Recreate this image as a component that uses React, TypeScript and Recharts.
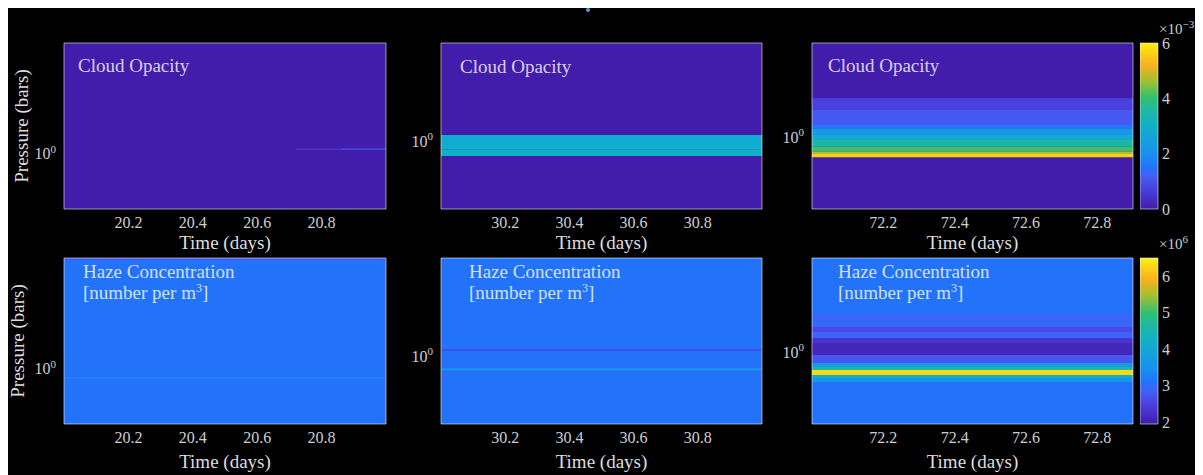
import React from "react";
import { ComposedChart, XAxis, YAxis, ReferenceArea, Label } from "recharts";

// time axes (days)
const timeRange20 = [20, 21];
const timeRange30 = [30, 31];
const timeRange72 = [72, 72.9];
const timeTicks20 = [20.2, 20.4, 20.6, 20.8];
const timeTicks30 = [30.2, 30.4, 30.6, 30.8];
const timeTicks72 = [72.2, 72.4, 72.6, 72.8];

// pressure axes, log10(bars), top -> bottom
const pressRange20 = [-2, 1];
const pressRange30 = [-1.8, 1.25];
const pressRange72 = [-1.7, 1.3];
const pressTicks = [0];

// cloud opacity (x 1e-3), bands of log10 pressure
const cloudScale = [0, 6];
const cloudTicks = [0, 2, 4, 6];
const cloudBase = 0;
const cloud20 = [
  { lo: -0.095, hi: -0.072, v: 0.5, t0: 20.72, t1: 20.86 },
  { lo: -0.095, hi: -0.072, v: 1.1, t0: 20.86, t1: 21 },
];
const cloud30 = [
  { lo: -0.11, hi: 0.02, v: 2.8 },
  { lo: 0.02, hi: 0.15, v: 2.9 },
  { lo: 0.15, hi: 0.276, v: 3.0 },
];
const cloud72 = [
  { lo: -0.7, hi: -0.49, v: 0.7 },
  { lo: -0.49, hi: -0.218, v: 1.1 },
  { lo: -0.218, hi: -0.158, v: 1.6 },
  { lo: -0.158, hi: -0.037, v: 2.2 },
  { lo: -0.037, hi: 0.053, v: 2.8 },
  { lo: 0.053, hi: 0.174, v: 3.5 },
  { lo: 0.174, hi: 0.264, v: 4.1 },
  { lo: 0.264, hi: 0.306, v: 4.8 },
  { lo: 0.306, hi: 0.366, v: 5.6 },
];

// haze concentration (x 1e6 per m^3)
const hazeScale = [1.95, 6.5];
const hazeTicks = [2, 3, 4, 5, 6];
const hazeBase = 3.1;
const haze20 = [
  { lo: -2, hi: -1.975, v: 2.6 },
  { lo: 0.155, hi: 0.18, v: 3.3 },
];
const haze30 = [
  { lo: -0.125, hi: -0.095, v: 2.55 },
  { lo: 0.225, hi: 0.265, v: 3.6 },
];
const haze72 = [
  { lo: -0.706, hi: -0.453, v: 2.95 },
  { lo: -0.453, hi: -0.363, v: 2.6 },
  { lo: -0.363, hi: -0.254, v: 2.9 },
  { lo: -0.254, hi: -0.164, v: 2.3 },
  { lo: -0.164, hi: 0.053, v: 2.1 },
  { lo: 0.053, hi: 0.198, v: 2.75 },
  { lo: 0.198, hi: 0.27, v: 3.7 },
  { lo: 0.27, hi: 0.324, v: 4.6 },
  { lo: 0.324, hi: 0.414, v: 6.3 },
  { lo: 0.414, hi: 0.469, v: 4.2 },
  { lo: 0.469, hi: 0.541, v: 3.5 },
];

const PARULA: [number, string][] = [
  [0, "#421CAA"],
  [0.12, "#4A40E0"],
  [0.2, "#4460F4"],
  [0.25, "#2272FA"],
  [0.33, "#1890F0"],
  [0.5, "#10B0C8"],
  [0.6, "#20B8A0"],
  [0.67, "#30C070"],
  [0.77, "#A0C030"],
  [0.87, "#F8B020"],
  [1, "#F8F010"],
];

function rgb(h: string) {
  return [1, 3, 5].map((i) => parseInt(h.slice(i, i + 2), 16));
}

function parula(f: number) {
  const x = Math.max(0, Math.min(1, f));
  for (let i = 1; i < PARULA.length; i++) {
    if (x <= PARULA[i][0]) {
      const [a0, c0] = PARULA[i - 1];
      const [a1, c1] = PARULA[i];
      const k = (x - a0) / (a1 - a0);
      const p = rgb(c0);
      const q = rgb(c1);
      const c = p.map((v, j) => Math.round(v + (q[j] - v) * k));
      return `rgb(${c[0]},${c[1]},${c[2]})`;
    }
  }
  return PARULA[PARULA.length - 1][1];
}

const SERIF = "'Liberation Serif', 'Times New Roman', serif";
const ORIGIN = 7;
const Y_W = 50;
const X_H = 50;
const M = 2;
const CB_M = 12;
const COLS = [
  { left: 64, width: 322, cloudX: 14, hazeX: 19 },
  { left: 441, width: 321, cloudX: 19, hazeX: 28 },
  { left: 812, width: 321, cloudX: 16, hazeX: 26 },
];
const ROWS = [
  { top: 43, height: 166, xGap: 33 },
  { top: 258, height: 166, xGap: 37 },
];
const CB = { left: 1140, width: 18 };

const PowTick = (props: any) => {
  const { x, y, payload } = props;
  return (
    <text x={x} y={y} textAnchor="end" fill="#cfcfcf" fontSize={16} fontFamily={SERIF}>
      <tspan dy="0.35em">10</tspan>
      <tspan dy="-0.6em" fontSize={11}>
        {payload.value}
      </tspan>
    </text>
  );
};

function Panel({ col, row, tRange, tTicks, pRange, base, bands, scale, title, titleX, titleY, yLabel }: any) {
  const W = Y_W + col.width + M;
  const H = M + row.height + X_H;
  const color = (v: number) => parula((v - scale[0]) / (scale[1] - scale[0]));
  return (
    <div style={{ position: "absolute", left: col.left - Y_W - ORIGIN, top: row.top - M - ORIGIN }}>
      <ComposedChart width={W} height={H} data={[]} margin={{ top: M, right: M, bottom: 0, left: 0 }}>
        <XAxis
          type="number"
          dataKey="t"
          domain={tRange}
          ticks={tTicks}
          allowDataOverflow
          height={X_H}
          axisLine={false}
          tickLine={false}
          tick={{ fill: "#cfcfcf", fontSize: 16, fontFamily: SERIF }}
        >
          <Label
            content={() => (
              <text
                x={Y_W + col.width / 2}
                y={M + row.height + row.xGap}
                textAnchor="middle"
                dominantBaseline="central"
                fill="#dedede"
                fontSize={19}
                fontFamily={SERIF}
              >
                Time (days)
              </text>
            )}
          />
        </XAxis>
        <YAxis
          type="number"
          dataKey="p"
          domain={pRange}
          ticks={pressTicks}
          reversed
          allowDataOverflow
          width={Y_W}
          axisLine={false}
          tickLine={false}
          tick={<PowTick />}
        />
        <ReferenceArea
          x1={tRange[0]}
          x2={tRange[1]}
          y1={pRange[0]}
          y2={pRange[1]}
          fill={color(base)}
          fillOpacity={1}
          stroke="none"
        />
        {bands.map((b: any, i: number) => (
          <ReferenceArea
            key={i}
            x1={b.t0 ?? tRange[0]}
            x2={b.t1 ?? tRange[1]}
            y1={b.lo}
            y2={b.hi}
            fill={color(b.v)}
            fillOpacity={1}
            stroke="none"
          />
        ))}
        <ReferenceArea
          x1={tRange[0]}
          x2={tRange[1]}
          y1={pRange[0]}
          y2={pRange[1]}
          fill="none"
          stroke="#ffffff"
          strokeOpacity={0.55}
        />
      </ComposedChart>
      <div
        style={{
          position: "absolute",
          left: Y_W + titleX,
          top: M + titleY,
          color: "rgba(255,255,255,0.8)",
          fontFamily: SERIF,
          fontSize: 19,
          lineHeight: "21px",
          whiteSpace: "nowrap",
        }}
      >
        {title}
      </div>
      {yLabel && (
        <div
          style={{
            position: "absolute",
            left: yLabel - (col.left - Y_W) - 80,
            top: M + row.height / 2 - 11,
            width: 160,
            textAlign: "center",
            transform: "rotate(-90deg)",
            color: "#dedede",
            fontFamily: SERIF,
            fontSize: 19,
            lineHeight: "22px",
          }}
        >
          Pressure (bars)
        </div>
      )}
    </div>
  );
}

function ColorBar({ row, scale, ticks, id, exp }: any) {
  const W = CB.width + 40;
  const H = CB_M + row.height + CB_M;
  return (
    <div style={{ position: "absolute", left: CB.left - ORIGIN, top: row.top - CB_M - ORIGIN }}>
      <ComposedChart width={W} height={H} data={[]} margin={{ top: CB_M, right: 0, bottom: CB_M, left: 0 }}>
        <defs>
          <linearGradient id={id} x1="0" y1="1" x2="0" y2="0">
            {PARULA.map(([o, c]) => (
              <stop key={o} offset={o} stopColor={c} />
            ))}
          </linearGradient>
        </defs>
        <XAxis type="number" dataKey="x" domain={[0, 1]} allowDataOverflow hide />
        <YAxis
          type="number"
          dataKey="v"
          orientation="right"
          domain={scale}
          ticks={ticks}
          interval={0}
          allowDataOverflow
          width={40}
          axisLine={false}
          tickLine={false}
          tick={{ fill: "#cfcfcf", fontSize: 16, fontFamily: SERIF, dx: -4 }}
        />
        <ReferenceArea
          x1={0}
          x2={1}
          y1={scale[0]}
          y2={scale[1]}
          fill={`url(#${id})`}
          fillOpacity={1}
          stroke="#ffffff"
          strokeOpacity={0.55}
        />
      </ComposedChart>
      <div
        style={{
          position: "absolute",
          left: 19,
          top: CB_M - 25,
          color: "#cfcfcf",
          fontFamily: SERIF,
          fontSize: 15,
          whiteSpace: "nowrap",
        }}
      >
        ×10<sup style={{ fontSize: 11 }}>{exp}</sup>
      </div>
    </div>
  );
}

const hazeTitle = (
  <>
    Haze Concentration
    <br />
    [number per m<sup style={{ fontSize: 12, lineHeight: 0 }}>3</sup>]
  </>
);

export default function App() {
  return (
    <div
      style={{
        position: "relative",
        marginLeft: -1,
        marginTop: -1,
        width: 1196,
        height: 468,
        background: "#000",
        overflow: "hidden",
      }}
    >
      <div
        style={{
          position: "absolute",
          left: 586 - ORIGIN,
          top: 8 - ORIGIN,
          width: 4,
          height: 4,
          borderRadius: 2,
          background: "#4aa3d8",
        }}
      />
      <Panel col={COLS[0]} row={ROWS[0]} tRange={timeRange20} tTicks={timeTicks20} pRange={pressRange20} base={cloudBase} bands={cloud20} scale={cloudScale} title="Cloud Opacity" titleX={COLS[0].cloudX} titleY={12} yLabel={22} />
      <Panel col={COLS[1]} row={ROWS[0]} tRange={timeRange30} tTicks={timeTicks30} pRange={pressRange30} base={cloudBase} bands={cloud30} scale={cloudScale} title="Cloud Opacity" titleX={COLS[1].cloudX} titleY={13} />
      <Panel col={COLS[2]} row={ROWS[0]} tRange={timeRange72} tTicks={timeTicks72} pRange={pressRange72} base={cloudBase} bands={cloud72} scale={cloudScale} title="Cloud Opacity" titleX={COLS[2].cloudX} titleY={12} />
      <ColorBar row={ROWS[0]} scale={cloudScale} ticks={cloudTicks} id="cbCloud" exp="−3" />
      <Panel col={COLS[0]} row={ROWS[1]} tRange={timeRange20} tTicks={timeTicks20} pRange={pressRange20} base={hazeBase} bands={haze20} scale={hazeScale} title={hazeTitle} titleX={COLS[0].hazeX} titleY={3} yLabel={18} />
      <Panel col={COLS[1]} row={ROWS[1]} tRange={timeRange30} tTicks={timeTicks30} pRange={pressRange30} base={hazeBase} bands={haze30} scale={hazeScale} title={hazeTitle} titleX={COLS[1].hazeX} titleY={3} />
      <Panel col={COLS[2]} row={ROWS[1]} tRange={timeRange72} tTicks={timeTicks72} pRange={pressRange72} base={hazeBase} bands={haze72} scale={hazeScale} title={hazeTitle} titleX={COLS[2].hazeX} titleY={3} />
      <ColorBar row={ROWS[1]} scale={hazeScale} ticks={hazeTicks} id="cbHaze" exp="6" />
    </div>
  );
}
